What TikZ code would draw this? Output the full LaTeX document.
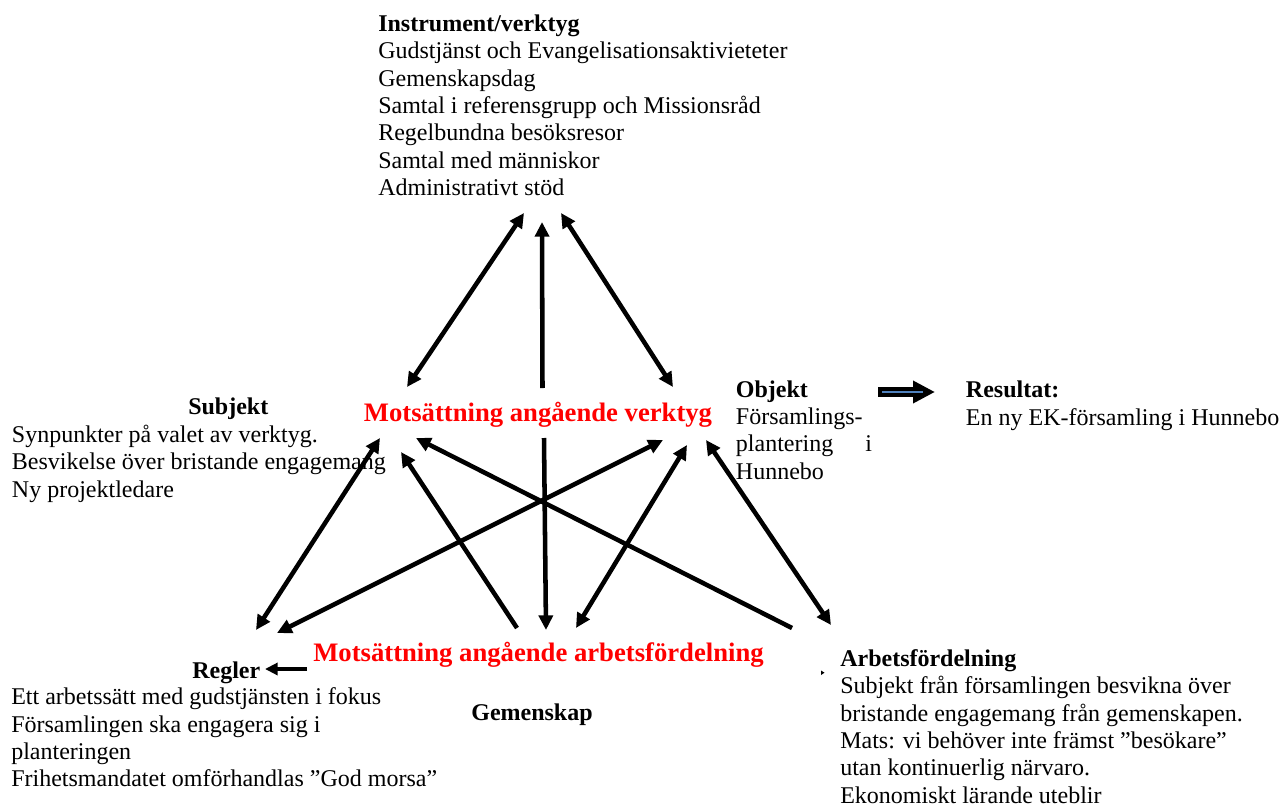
\documentclass[tikz,border=0pt]{standalone}
\usepackage{fontspec}
\setmainfont{Liberation Serif}
\usetikzlibrary{arrows.meta}
\definecolor{pilbla}{RGB}{79,129,189}

\begin{document}
\begin{tikzpicture}[x=0.75pt, y=-0.75pt,
    every node/.style={inner sep=0pt, font=\fontsize{18}{20.5}\selectfont},
    titel/.style={anchor=base west, font=\fontsize{18}{20.5}\selectfont\bfseries},
    brod/.style={anchor=base west, align=left},
    motsats/.style={anchor=base, text=red, font=\fontsize{20}{24}\selectfont\bfseries},
    pil/.style={line width=3.4pt, -{Triangle[length=11pt, width=10.5pt]}},
    dubbelpil/.style={line width=3.4pt, {Triangle[length=11pt, width=10.5pt]}-{Triangle[length=11pt, width=10.5pt]}}]
    \path[fill=white] (0,0) rectangle (1286,810);
    \useasboundingbox (0,0) rectangle (1286,810);

    % multi-line nodes sit on the baseline of their last line
    \node[titel] (instrument) at (378,31.7) {Instrument/verktyg};
    \node[brod] (instrtext) at (378,195.5) {Gudstjänst och Evangelisationsaktivieteter\\Gemenskapsdag\\Samtal i referensgrupp och Missionsråd\\Regelbundna besöksresor\\Samtal med människor\\Administrativt stöd};
    \node[titel] (subjekt) at (188,414.3) {Subjekt};
    \node[brod] (subjtext) at (11.7,497.3) {Synpunkter på valet av verktyg.\\Besvikelse över bristande engagemang\\Ny projektledare};
    \node[titel] (objekt) at (735.7,397.3) {Objekt};
    \node[brod] (objtext) at (735.7,479.3) {Församlings-\\plantering\hspace{24pt}i\\Hunnebo};
    \node[titel] (resultat) at (965.7,397.3) {Resultat:};
    \node[brod] (resultext) at (965.7,425) {En ny EK-församling i Hunnebo};
    \node[titel] (regler) at (192,678) {Regler};
    \node[brod] (reglertext) at (11,786.7) {Ett arbetssätt med gudstjänsten i fokus\\Församlingen ska engagera sig i\\planteringen\\Frihetsmandatet omförhandlas ”God morsa”};
    \node[titel, anchor=base] (gemenskap) at (532,720) {Gemenskap};
    \node[titel] (arbete) at (840,666.7) {Arbetsfördelning};
    \node[brod] (arbtext) at (840,803) {Subjekt från församlingen besvikna över\\bristande engagemang från gemenskapen.\\Mats: vi behöver inte främst ”besökare”\\utan kontinuerlig närvaro.\\Ekonomiskt lärande uteblir};
    \node[motsats] (verktyg) at (538,421.7) {Motsättning angående verktyg};
    \node[motsats] (arbfordel) at (538.5,661.7) {Motsättning angående arbetsfördelning};

    \coordinate (t1a) at (524,213);   \coordinate (t1b) at (407,387);
    \coordinate (t2a) at (542,222);   \coordinate (t2b) at (542.5,388);
    \coordinate (t3a) at (561,213);   \coordinate (t3b) at (673,387);
    \coordinate (k1a) at (380,438);   \coordinate (k1b) at (256,630);
    \coordinate (k2a) at (663,440);   \coordinate (k2b) at (277,633);
    \coordinate (k3a) at (401,452);   \coordinate (k3b) at (517,628);
    \coordinate (k4a) at (544,438);   \coordinate (k4b) at (546,630);
    \coordinate (k5a) at (687,445);   \coordinate (k5b) at (576,628);
    \coordinate (k6a) at (416,438);   \coordinate (k6b) at (792,628);
    \coordinate (k7a) at (706,440);   \coordinate (k7b) at (831,625);
    \coordinate (g1) at (307,669);    \coordinate (g2) at (265,669);
    \coordinate (r1) at (878,392);    \coordinate (r2) at (935,392);
    \coordinate (b1) at (882,392);    \coordinate (b2) at (923,392);

    \draw[dubbelpil] (t1a) -- (t1b);
    \draw[pil] (t2b) -- (t2a);
    \draw[dubbelpil] (t3a) -- (t3b);
    \draw[dubbelpil] (k1a) -- (k1b);
    \draw[dubbelpil] (k2a) -- (k2b);
    \draw[pil] (k3b) -- (k3a);
    \draw[pil] (k4a) -- (k4b);
    \draw[dubbelpil] (k5a) -- (k5b);
    \draw[pil] (k6b) -- (k6a);
    \draw[dubbelpil] (k7a) -- (k7b);
    \draw[line width=3.4pt, -{Triangle[length=9.5pt, width=9pt]}] (g1) -- (g2);
    \draw[line width=7.5pt, -{Triangle[length=16.5pt, width=16pt]}] (r1) -- (r2);
    \draw[line width=1.2pt, draw=pilbla] (b1) -- (b2);
    \fill (821,670.5) -- (824.5,672.7) -- (821,675) -- cycle;
\end{tikzpicture}
\end{document}
